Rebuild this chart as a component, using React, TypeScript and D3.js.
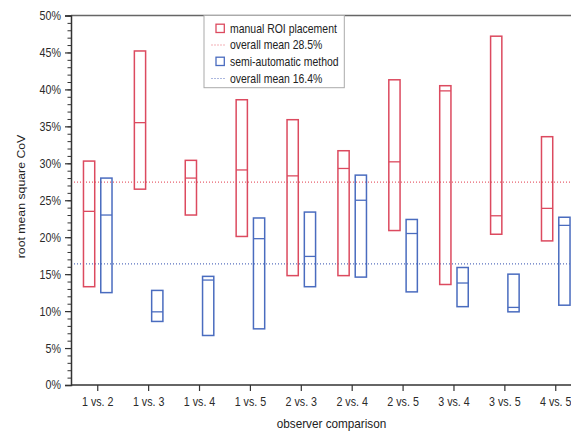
import React, { useEffect, useRef } from "react";
import * as d3 from "d3";

const comparisons = ["1 vs. 2", "1 vs. 3", "1 vs. 4", "1 vs. 5", "2 vs. 3", "2 vs. 4", "2 vs. 5", "3 vs. 4", "3 vs. 5", "4 vs. 5"];

// manual ROI placement (max / median / min, in %)
const manualHigh = [30.3, 45.2, 30.4, 38.6, 35.9, 31.7, 41.3, 40.5, 47.2, 33.6];
const manualMid = [23.5, 35.5, 28.0, 29.1, 28.3, 29.3, 30.2, 39.8, 22.9, 23.9];
const manualLow = [13.3, 26.5, 23.0, 20.1, 14.8, 14.8, 20.9, 13.6, 20.4, 19.5];

// semi-automatic method
const semiHigh = [28.0, 12.8, 14.7, 22.6, 23.4, 28.4, 22.4, 15.9, 15.0, 22.7];
const semiMid = [23.0, 9.9, 14.2, 19.8, 17.4, 25.0, 20.5, 13.8, 10.5, 21.6];
const semiLow = [12.5, 8.6, 6.7, 7.6, 13.3, 14.6, 12.6, 10.6, 9.9, 10.8];

// where the dotted mean lines sit, and what the legend says
const meanLines = [27.45, 16.4];
const legendLabels = ["manual ROI placement", "overall mean 28.5%", "semi-automatic method", "overall mean 16.4%"];

const yTicks = [0, 5, 10, 15, 20, 25, 30, 35, 40, 45, 50];

const RED = "#dc4a5f";
const BLUE = "#4a6cbf";
const FONT = "'Liberation Sans', Arial, sans-serif";
const SQUEEZE = 0.87;

const App = () => {
  const svgRef = useRef<SVGSVGElement>(null);

  useEffect(() => {
    const svg = d3.select(svgRef.current);
    svg.selectAll("*").remove();

    const left = 71;
    const top = 15.5;
    const bottom = 385;

    const x = d3.scaleBand().domain(comparisons).range([72.3, 581.2]);
    const inner = d3.scaleBand().domain(["manual", "semi"]).range([-16, 16]).paddingInner(0.35).paddingOuter(0.1);
    const y = d3.scaleLinear().domain([0, 50]).range([bottom, top]);

    // frame top line
    svg.append("line")
      .attr("x1", left).attr("x2", 571)
      .attr("y1", top).attr("y2", top)
      .attr("stroke", "#666").attr("stroke-width", 1.3);

    // mean lines
    const meanColors = ["#e8606e", "#5a72bf"];
    meanLines.forEach((m, i) => {
      svg.append("line")
        .attr("x1", left).attr("x2", 571)
        .attr("y1", y(m)).attr("y2", y(m))
        .attr("stroke", meanColors[i]).attr("stroke-width", 1.2)
        .attr("stroke-dasharray", "1,2");
    });

    // boxes
    const groups = [
      { key: "manual", color: RED, hi: manualHigh, mid: manualMid, lo: manualLow },
      { key: "semi", color: BLUE, hi: semiHigh, mid: semiMid, lo: semiLow },
    ];
    groups.forEach(g => {
      const bw = inner.bandwidth();
      comparisons.forEach((c, i) => {
        const cx = (x(c) as number) + x.bandwidth() / 2 + (inner(g.key) as number);
        svg.append("rect")
          .attr("x", cx).attr("y", y(g.hi[i]))
          .attr("width", bw).attr("height", y(g.lo[i]) - y(g.hi[i]))
          .attr("fill", "none").attr("stroke", g.color).attr("stroke-width", 1.5);
        svg.append("line")
          .attr("x1", cx).attr("x2", cx + bw)
          .attr("y1", y(g.mid[i])).attr("y2", y(g.mid[i]))
          .attr("stroke", g.color).attr("stroke-width", 1.3);
      });
    });

    // y axis: minor ticks then major ticks with labels
    svg.append("g")
      .attr("transform", `translate(${left},0)`)
      .call(d3.axisLeft(y).tickValues(d3.range(0, 51, 1)).tickSize(3.5).tickFormat(() => ""))
      .call(g => g.select(".domain").remove())
      .selectAll("line").attr("stroke", "#333");

    const yAxis = svg.append("g")
      .attr("transform", `translate(${left},0)`)
      .call(d3.axisLeft(y).tickValues(yTicks).tickSize(6).tickPadding(4).tickFormat(d => `${d}%`));
    yAxis.select(".domain").attr("stroke", "#333").attr("stroke-width", 1.5);
    yAxis.selectAll("line").attr("stroke", "#333").attr("stroke-width", 1.2);
    yAxis.selectAll("text")
      .attr("font-family", FONT).attr("font-size", 12.3).attr("fill", "#2a2a2a")
      .attr("x", -10 / SQUEEZE)
      .attr("transform", `scale(${SQUEEZE},1)`);

    // x axis
    const xAxis = svg.append("g")
      .attr("transform", `translate(0,${bottom})`)
      .call(d3.axisBottom(x).tickSize(6).tickPadding(6).tickSizeOuter(0));
    xAxis.select(".domain").attr("d", `M${left},0H571`).attr("stroke", "#333").attr("stroke-width", 1.5);
    xAxis.selectAll("line").attr("stroke", "#333").attr("stroke-width", 1.2);
    xAxis.selectAll("text")
      .attr("font-family", FONT).attr("font-size", 12.3).attr("fill", "#2a2a2a")
      .attr("transform", `scale(${SQUEEZE},1)`);

    // axis titles
    svg.append("text")
      .attr("transform", `translate(331.5,427.5) scale(${SQUEEZE},1)`)
      .attr("text-anchor", "middle")
      .attr("font-family", FONT).attr("font-size", 13.5).attr("fill", "#222")
      .text("observer comparison");

    svg.append("text")
      .attr("transform", `translate(25,196.5) scale(${SQUEEZE},1) rotate(-90)`)
      .attr("text-anchor", "middle")
      .attr("font-family", FONT).attr("font-size", 12.3).attr("fill", "#222")
      .text("root mean square CoV");

    // legend
    const legend = svg.append("g");
    legend.append("rect")
      .attr("x", 204).attr("y", top)
      .attr("width", 140.3).attr("height", 72.2)
      .attr("fill", "white").attr("stroke", "#aaa").attr("stroke-width", 1);
    const rowY = [28.5, 45, 61.5, 78.5];
    const rowColor = [RED, "#e8606e", BLUE, "#5a72bf"];
    legendLabels.forEach((label, i) => {
      if (i % 2 === 0) {
        legend.append("rect")
          .attr("x", 216).attr("y", rowY[i] - 4.3)
          .attr("width", 8.3).attr("height", 8.3)
          .attr("fill", "none").attr("stroke", rowColor[i]).attr("stroke-width", 1.3);
      } else {
        legend.append("line")
          .attr("x1", 211.5).attr("x2", 226.5)
          .attr("y1", rowY[i]).attr("y2", rowY[i])
          .attr("stroke", rowColor[i]).attr("stroke-width", 1.2)
          .attr("stroke-dasharray", "1,2");
      }
      legend.append("text")
        .attr("transform", `translate(230,${rowY[i] + 4.2}) scale(0.85,1)`)
        .attr("font-family", FONT).attr("font-size", 12.3).attr("fill", "#222")
        .text(label);
    });
  }, []);

  return (
    <svg
      ref={svgRef}
      width={571}
      height={431}
      style={{ position: "absolute", left: 0, top: 0, background: "white" }}
    ></svg>
  );
};

export default App;
